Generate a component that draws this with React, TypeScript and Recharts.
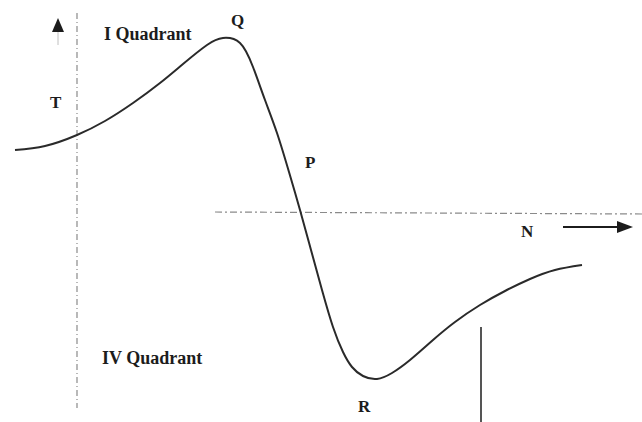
import { LineChart, Line, XAxis, YAxis, ReferenceLine, ReferenceDot } from 'recharts';

// speed N (x) and torque T (y), torque axis at N = 0
const speed = [-61, -31, 1, 29, 57, 84, 107, 131, 147, 164, 177, 189, 201, 213, 224, 235, 246, 257, 267, 276, 287, 301, 316, 334, 357, 379, 404, 429, 454, 479, 506];
const torque = [63, 67, 78, 92, 110, 130, 149, 168, 175, 170, 146, 113, 80, 41, 3, -37, -77, -114, -139, -154, -163, -166, -160, -147, -127, -109, -92, -78, -66, -57, -52];

const data = speed.map((n, i) => ({ n, t: torque[i] }));

const font = '"Liberation Serif", "DejaVu Serif", serif';
const ink = '#1c1c1c';

const makeLabel = (text: string, size: number) => (props: any) => (
  <text x={props.cx} y={props.cy} fontFamily={font} fontWeight="bold" fontSize={size} fill={ink}>
    {text}
  </text>
);

const UpArrow = (props: any) => (
  <path d={`M${props.cx},${props.cy} L${props.cx - 6},${props.cy + 14} L${props.cx + 6},${props.cy + 14} Z`} fill={ink} />
);

const RightArrow = (props: any) => (
  <path d={`M${props.cx},${props.cy} L${props.cx - 16},${props.cy - 6} L${props.cx - 16},${props.cy + 6} Z`} fill={ink} />
);

export default function App() {
  return (
    <div style={{ background: '#fff' }}>
      <style>{`body{margin:0;background:#fff}`}</style>
      <LineChart width={642} height={422} data={data} margin={{ top: 0, right: 0, bottom: 0, left: 0 }}>
        <XAxis dataKey="n" type="number" domain={[-76, 566]} hide allowDataOverflow />
        <YAxis type="number" domain={[-209, 213]} hide allowDataOverflow />
        {/* torque axis */}
        <ReferenceLine segment={[{ x: 1, y: 200 }, { x: 1, y: -195 }]} stroke="#8a8a8a" strokeWidth={1.2} strokeDasharray="6 3 1 3" />
        <ReferenceLine segment={[{ x: -18, y: 181 }, { x: -18, y: 168 }]} stroke="#c0c0c0" strokeWidth={1} />
        <ReferenceDot x={-18} y={195} r={0} shape={UpArrow} />
        {/* speed axis */}
        <ReferenceLine segment={[{ x: 139, y: 1 }, { x: 566, y: -1 }]} stroke="#8a8a8a" strokeWidth={1.2} strokeDasharray="7 3 2 3" />
        <ReferenceLine segment={[{ x: 487, y: -14 }, { x: 545, y: -14 }]} stroke={ink} strokeWidth={2} />
        <ReferenceDot x={557} y={-14} r={0} shape={RightArrow} />
        {/* marker line */}
        <ReferenceLine segment={[{ x: 405, y: -114 }, { x: 405, y: -209 }]} stroke={ink} strokeWidth={1.5} />
        <Line
          type="natural"
          dataKey="t"
          stroke="#2a2a2a"
          strokeWidth={2}
          dot={false}
          activeDot={false}
          isAnimationActive={false}
        />
        <ReferenceDot x={28} y={173} r={0} shape={makeLabel('I Quadrant', 18)} />
        <ReferenceDot x={-26} y={105} r={0} shape={makeLabel('T', 17)} />
        <ReferenceDot x={155} y={187} r={0} shape={makeLabel('Q', 17)} />
        <ReferenceDot x={229} y={45} r={0} shape={makeLabel('P', 17)} />
        <ReferenceDot x={445} y={-24} r={0} shape={makeLabel('N', 17)} />
        <ReferenceDot x={26} y={-151} r={0} shape={makeLabel('IV Quadrant', 18)} />
        <ReferenceDot x={282} y={-199} r={0} shape={makeLabel('R', 17)} />
      </LineChart>
    </div>
  );
}
